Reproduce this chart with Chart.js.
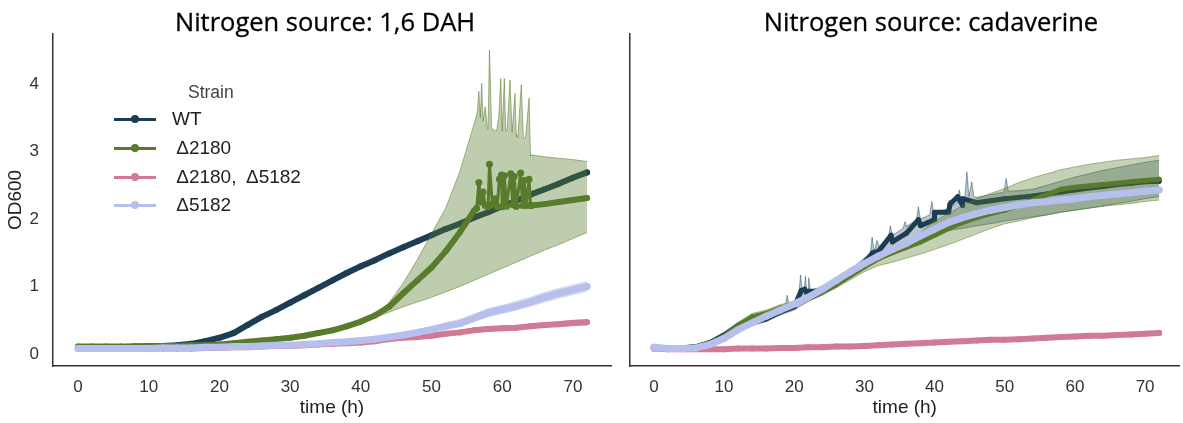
<!DOCTYPE html>
<html>
<head>
<meta charset="utf-8">
<script src="https://cdn.jsdelivr.net/npm/chart.js@4.4.1/dist/chart.umd.min.js"></script>
<style>
  body { margin: 0; background: #fff; width: 1183px; height: 423px; overflow: hidden; position: relative; font-family: "Liberation Sans", Arial, sans-serif; }
  .box { position: absolute; top: 0; height: 423px; }
  .ttl { position: absolute; top: 6px; font-family: "Open Sans", sans-serif; font-size: 25.5px; line-height: 30px; color: #000; white-space: nowrap; transform: translateX(-50%); -webkit-text-stroke: 0.3px #000; }
  #legend { position: absolute; left: 0; top: 0; }
  .lg-title { position: absolute; left: 188px; top: 81px; font-size: 17.5px; line-height: 22px; color: #444; }
  .lg-row { position: absolute; left: 114px; height: 24px; display: flex; align-items: center; }
  .lg-swatch { position: relative; width: 42px; height: 3px; margin-right: 16px; }
  .lg-swatch span { position: absolute; left: 17px; top: -2.5px; width: 8px; height: 8px; border-radius: 50%; }
  .lg-label { font-size: 19px; color: #222; white-space: pre; }
</style>
</head>
<body>
<div class="box" style="left:0;width:616px"><canvas id="dah"></canvas></div>
<div class="box" style="left:620px;width:563px"><canvas id="cad"></canvas></div>
<div class="ttl" style="left:325px">Nitrogen source: 1,6 DAH</div>
<div class="ttl" style="left:931px">Nitrogen source: cadaverine</div>
<div id="legend"></div>

<script>
// --- data ---
const STRAINS = ['WT', ' Δ2180', ' Δ2180,  Δ5182', ' Δ5182'];
const COLORS = ['#1b3e55', '#587c2c', '#d07b93', '#b7bfec'];
const X_TICKS = [0, 10, 20, 30, 40, 50, 60, 70];
const Y_TICKS = [0, 1, 2, 3, 4];

// time (h)
const T = [0, 2, 4, 6, 8, 10, 12, 14, 16, 18, 20, 22, 24, 26, 28, 30, 32, 34, 36,
           38, 40, 42, 44, 46, 48, 50, 52, 54, 56, 58, 60, 62, 64, 66, 68, 70, 72];

// nitrogen source: 1,6 DAH
const dahWT   = [0.10, 0.10, 0.10, 0.10, 0.11, 0.11, 0.12, 0.13, 0.15, 0.19, 0.24, 0.31, 0.43, 0.55, 0.65, 0.76, 0.87, 0.98, 1.09,
                 1.20, 1.30, 1.39, 1.49, 1.58, 1.67, 1.76, 1.85, 1.93, 2.02, 2.10, 2.19, 2.27, 2.36, 2.44, 2.52, 2.61, 2.69];
const dah2180 = [0.11, 0.11, 0.11, 0.11, 0.11, 0.12, 0.12, 0.12, 0.13, 0.13, 0.14, 0.16, 0.18, 0.20, 0.22, 0.24, 0.27, 0.31, 0.35,
                 0.41, 0.48, 0.57, 0.70, 0.90, 1.09, 1.28, 1.52, 1.80, 2.12, 2.18, 2.18, 2.19, 2.20, 2.22, 2.25, 2.28, 2.31];
const dah2180Lo = [0.09, 0.09, 0.09, 0.09, 0.09, 0.10, 0.10, 0.10, 0.11, 0.11, 0.12, 0.14, 0.16, 0.18, 0.20, 0.22, 0.25, 0.29, 0.33,
                   0.39, 0.46, 0.54, 0.62, 0.70, 0.77, 0.84, 0.92, 1.00, 1.09, 1.18, 1.27, 1.36, 1.45, 1.54, 1.62, 1.71, 1.80];
const dah2180Hi = [0.13, 0.13, 0.13, 0.13, 0.13, 0.14, 0.14, 0.14, 0.15, 0.15, 0.16, 0.18, 0.20, 0.22, 0.24, 0.26, 0.29, 0.33, 0.37,
                   0.43, 0.50, 0.59, 0.76, 1.05, 1.40, 1.78, 2.16, 2.70, 3.40, 3.33, 3.30, 3.22, 2.93, 2.92, 2.90, 2.88, 2.85];
const dahSpikeT   = [56.4, 56.7, 57.0, 57.3, 57.6, 58.2, 58.6, 59.0, 59.3, 59.6, 59.9, 60.1, 60.3, 60.6, 61.2, 61.5,
                     61.7, 62.0, 62.6, 62.9, 63.1, 63.4, 63.8, 64.1];
const dah2180Spike = [2.16, 2.54, 2.25, 2.40, 2.20, 2.81, 2.22, 2.30, 2.18, 2.59, 2.65, 2.20, 2.64, 2.19, 2.67, 2.21,
                      2.63, 2.19, 2.68, 2.20, 2.57, 2.20, 2.59, 2.20];
const dahHiSpikeT = [56.2, 56.5, 56.7, 56.9, 57.1, 57.3, 57.6, 57.9, 58.2, 58.5, 58.7, 59.2, 59.5, 59.8, 60.0, 60.3,
                     60.5, 60.7, 61.1, 61.4, 61.8, 62.0, 62.2, 62.7, 63.0, 63.3, 63.8, 64.0];
const dah2180HiSpike = [3.47, 3.60, 3.89, 3.50, 4.01, 3.45, 3.66, 3.35, 4.50, 3.35, 3.32, 3.30, 3.50, 4.08, 3.30, 4.08,
                        3.30, 3.32, 4.06, 3.28, 3.86, 3.25, 3.20, 3.99, 3.20, 3.20, 3.79, 2.95];
const dahBoth   = [0.08, 0.08, 0.08, 0.08, 0.08, 0.08, 0.08, 0.08, 0.08, 0.09, 0.09, 0.10, 0.10, 0.11, 0.12, 0.12, 0.13, 0.14, 0.15,
                   0.16, 0.17, 0.19, 0.22, 0.24, 0.25, 0.27, 0.30, 0.32, 0.35, 0.37, 0.38, 0.39, 0.41, 0.43, 0.44, 0.46, 0.47];
const dahBothLo = [0.07, 0.07, 0.07, 0.07, 0.07, 0.07, 0.07, 0.07, 0.07, 0.08, 0.08, 0.09, 0.09, 0.10, 0.11, 0.11, 0.12, 0.13, 0.14,
                   0.15, 0.16, 0.17, 0.20, 0.22, 0.23, 0.25, 0.28, 0.30, 0.32, 0.34, 0.35, 0.36, 0.38, 0.40, 0.41, 0.42, 0.43];
const dahBothHi = [0.09, 0.09, 0.09, 0.09, 0.09, 0.09, 0.09, 0.09, 0.09, 0.10, 0.10, 0.11, 0.11, 0.12, 0.13, 0.13, 0.14, 0.15, 0.16,
                   0.17, 0.19, 0.21, 0.24, 0.26, 0.27, 0.29, 0.32, 0.35, 0.38, 0.40, 0.41, 0.42, 0.44, 0.46, 0.48, 0.50, 0.51];
const dah5182   = [0.08, 0.08, 0.08, 0.08, 0.08, 0.08, 0.09, 0.09, 0.09, 0.10, 0.10, 0.11, 0.11, 0.12, 0.13, 0.13, 0.14, 0.15, 0.17,
                   0.18, 0.20, 0.22, 0.25, 0.28, 0.32, 0.36, 0.41, 0.45, 0.53, 0.61, 0.66, 0.71, 0.77, 0.84, 0.90, 0.95, 1.00];
const dah5182Lo = [0.06, 0.06, 0.06, 0.06, 0.06, 0.06, 0.07, 0.07, 0.07, 0.08, 0.08, 0.09, 0.09, 0.10, 0.11, 0.11, 0.12, 0.13, 0.15,
                   0.16, 0.18, 0.20, 0.22, 0.25, 0.29, 0.33, 0.37, 0.41, 0.48, 0.55, 0.60, 0.65, 0.71, 0.77, 0.83, 0.88, 0.93];
const dah5182Hi = [0.10, 0.10, 0.10, 0.10, 0.10, 0.10, 0.11, 0.11, 0.11, 0.12, 0.12, 0.13, 0.13, 0.14, 0.15, 0.16, 0.17, 0.18, 0.20,
                   0.21, 0.23, 0.25, 0.28, 0.32, 0.36, 0.40, 0.46, 0.51, 0.59, 0.67, 0.72, 0.78, 0.84, 0.91, 0.97, 1.02, 1.07];

// nitrogen source: cadaverine
const cadWT   = [0.10, 0.09, 0.09, 0.11, 0.17, 0.28, 0.42, 0.46, 0.52, 0.62, 0.70, 0.86, 0.93, 1.05, 1.20, 1.36, 1.52, 1.66, 1.79,
                 1.90, 1.99, 2.10, 2.20, 2.24, 2.27, 2.30, 2.32, 2.34, 2.37, 2.40, 2.43, 2.46, 2.48, 2.51, 2.53, 2.55, 2.56];
const cadWTLo = [0.08, 0.07, 0.07, 0.09, 0.14, 0.24, 0.37, 0.42, 0.48, 0.58, 0.65, 0.78, 0.87, 0.99, 1.14, 1.28, 1.42, 1.55, 1.66,
                 1.75, 1.80, 1.83, 1.86, 1.90, 1.93, 1.97, 2.00, 2.03, 2.06, 2.10, 2.13, 2.16, 2.19, 2.23, 2.26, 2.30, 2.33];
const cadWTHi = [0.12, 0.11, 0.11, 0.13, 0.20, 0.32, 0.47, 0.49, 0.55, 0.66, 0.76, 0.92, 1.00, 1.10, 1.25, 1.42, 1.62, 1.75, 1.88,
                 1.98, 2.06, 2.16, 2.28, 2.32, 2.36, 2.40, 2.42, 2.44, 2.50, 2.56, 2.62, 2.67, 2.72, 2.76, 2.80, 2.84, 2.87];
const cadSpikeT  = [21.0, 21.5, 22.0, 31.2, 33.8, 37.7, 40.0, 42.2, 43.3, 44.0];
const cadWTSpike = [0.94, 0.96, 0.93, 1.50, 1.76, 1.99, 2.10, 2.22, 2.33, 2.30];
const cadHiSpikeT = [18.7, 19.0, 19.3, 20.6, 20.9, 21.2, 21.4, 21.6, 21.8, 22.0, 22.1, 22.3, 30.8, 31.1, 31.4, 31.8, 32.2,
                     33.4, 33.7, 34.0, 35.5, 35.8, 36.1, 37.4, 37.7, 38.0, 39.3, 39.6, 39.9, 41.8, 42.1, 42.4,
                     43.2, 43.5, 43.8, 44.3, 44.6, 44.9, 45.3, 45.6, 49.9, 50.2, 50.5];
const cadWTHiSpike = [0.70, 0.87, 0.70, 0.80, 1.17, 0.88, 0.90, 1.15, 0.90, 0.92, 1.13, 0.94, 1.45, 1.73, 1.52, 1.68, 1.60,
                      1.70, 1.90, 1.76, 1.86, 1.96, 1.90, 1.98, 2.18, 2.00, 2.06, 2.26, 2.08, 2.16, 2.28, 2.18,
                      2.24, 2.43, 2.28, 2.30, 2.70, 2.33, 2.55, 2.33, 2.40, 2.60, 2.41];
const cad2180   = [0.10, 0.09, 0.09, 0.11, 0.16, 0.26, 0.42, 0.55, 0.60, 0.68, 0.74, 0.82, 0.92, 1.03, 1.16, 1.29, 1.41, 1.50, 1.58,
                   1.66, 1.76, 1.86, 1.95, 2.02, 2.08, 2.13, 2.20, 2.28, 2.36, 2.44, 2.47, 2.49, 2.51, 2.53, 2.55, 2.57, 2.59];
const cad2180Lo = [0.08, 0.07, 0.07, 0.09, 0.13, 0.22, 0.37, 0.50, 0.55, 0.63, 0.70, 0.78, 0.88, 0.98, 1.10, 1.22, 1.31, 1.36, 1.42,
                   1.48, 1.55, 1.62, 1.70, 1.78, 1.86, 1.93, 1.97, 2.02, 2.06, 2.10, 2.13, 2.16, 2.19, 2.21, 2.23, 2.26, 2.28];
const cad2180Hi = [0.12, 0.11, 0.11, 0.13, 0.19, 0.30, 0.47, 0.60, 0.65, 0.73, 0.78, 0.86, 0.96, 1.07, 1.20, 1.34, 1.48, 1.58, 1.68,
                   1.80, 1.97, 2.08, 2.20, 2.30, 2.38, 2.45, 2.54, 2.61, 2.67, 2.73, 2.77, 2.81, 2.84, 2.87, 2.89, 2.91, 2.94];
const cadBoth   = [0.08, 0.07, 0.07, 0.07, 0.07, 0.07, 0.08, 0.08, 0.08, 0.09, 0.09, 0.10, 0.10, 0.11, 0.11, 0.12, 0.13, 0.14, 0.15,
                   0.16, 0.17, 0.18, 0.19, 0.20, 0.21, 0.21, 0.22, 0.23, 0.24, 0.25, 0.26, 0.27, 0.27, 0.28, 0.29, 0.30, 0.31];
const cad5182   = [0.10, 0.08, 0.08, 0.09, 0.14, 0.23, 0.36, 0.46, 0.56, 0.65, 0.74, 0.84, 0.96, 1.09, 1.22, 1.34, 1.45, 1.55, 1.64,
                   1.75, 1.85, 1.95, 2.02, 2.08, 2.13, 2.17, 2.21, 2.24, 2.26, 2.28, 2.30, 2.33, 2.35, 2.37, 2.39, 2.41, 2.43];

// --- helpers ---
const pts = (xs, ys) => xs.map((x, i) => ({ x: x, y: ys[i] }));
const withSpikes = (xs, ys, sx, sy) => pts(xs, ys).concat(pts(sx, sy)).sort((a, b) => a.x - b.x);
const rgba = (hex, a) => {
    const n = parseInt(hex.slice(1), 16);
    return `rgba(${n >> 16}, ${(n >> 8) & 255}, ${n & 255}, ${a})`;
};

// thinner segments inside a spiky window, like single replicate jumps
function addLine(list, data, color, width, order, spikeT) {
    const inSpikes = x => spikeT && x >= spikeT[0] && x <= spikeT[spikeT.length - 1];
    list.push({
        data: data, borderColor: color, backgroundColor: color, borderWidth: width,
        pointRadius: ctx => (ctx.raw && inSpikes(ctx.raw.x)) ? 3.5 : width / 2,
        pointBorderWidth: 0, pointHoverRadius: 0,
        borderCapStyle: 'round', borderJoinStyle: 'round', fill: false, order: order,
        segment: { borderWidth: ctx => (inSpikes(ctx.p0.parsed.x) && inSpikes(ctx.p1.parsed.x)) ? 3 : width }
    });
}

function addBand(list, lo, hi, color, alpha, order) {
    list.push({ data: lo, borderColor: rgba(color, alpha + 0.15), borderWidth: 1, pointRadius: 0, fill: false, order: order });
    const loIdx = list.length - 1;
    list.push({ data: hi, borderColor: rgba(color, alpha + 0.15), borderWidth: 1, pointRadius: 0,
                backgroundColor: rgba(color, alpha), fill: { target: loIdx }, order: order });
}

const FONT = '"Liberation Sans", Arial, sans-serif';

function makeOptions(xMin, xMax, yWidth, showY) {
    return {
        responsive: true, maintainAspectRatio: false, animation: false,
        layout: { padding: { left: 0, right: showY ? 5 : 0, top: 34, bottom: 0 } },
        plugins: { legend: { display: false }, tooltip: { enabled: false } },
        scales: {
            x: {
                type: 'linear', min: xMin, max: xMax,
                afterBuildTicks: s => { s.ticks = X_TICKS.map(v => ({ value: v })); },
                afterFit: s => { s.height = 57; },
                grid: { display: false, drawTicks: false },
                border: { display: true, color: '#333', width: 1.5 },
                ticks: { color: '#333', font: { family: FONT, size: 17 }, padding: 11, maxRotation: 0 },
                title: { display: true, text: 'time (h)', color: '#222', font: { family: FONT, size: 19 }, padding: { top: 0, bottom: 4 } }
            },
            y: {
                type: 'linear', min: -0.178, max: 4.74,
                afterBuildTicks: s => { s.ticks = Y_TICKS.map(v => ({ value: v })); },
                afterFit: s => { s.width = yWidth; },
                grid: { display: false, drawTicks: false },
                border: { display: true, color: '#333', width: 1.5 },
                ticks: { display: showY, color: '#333', font: { family: FONT, size: 17 }, padding: 14 },
                title: { display: showY, text: 'OD600', color: '#222', font: { family: FONT, size: 19 }, padding: { top: 4, bottom: 0 } }
            }
        }
    };
}

// --- left panel: 1,6 DAH ---
const dahSets = [];
addBand(dahSets, pts(T, dahBothLo), pts(T, dahBothHi), COLORS[2], 0.35, 4);
addBand(dahSets, pts(T, dah5182Lo), pts(T, dah5182Hi), COLORS[3], 0.45, 2);
addBand(dahSets, pts(T, dah2180Lo), withSpikes(T, dah2180Hi, dahHiSpikeT, dah2180HiSpike), COLORS[1], 0.38, 6);
addLine(dahSets, pts(T, dahWT), COLORS[0], 6, 7);
addLine(dahSets, withSpikes(T, dah2180, dahSpikeT, dah2180Spike), COLORS[1], 6, 5, dahSpikeT);
addLine(dahSets, pts(T, dahBoth), COLORS[2], 6, 3);
addLine(dahSets, pts(T, dah5182), COLORS[3], 7, 1);

new Chart(document.getElementById('dah'), {
    type: 'line',
    data: { datasets: dahSets },
    options: makeOptions(-3.54, 75.39, 53, true)
});

// --- right panel: cadaverine ---
const cadSets = [];
addBand(cadSets, pts(T, cadWTLo), withSpikes(T, cadWTHi, cadHiSpikeT, cadWTHiSpike), COLORS[0], 0.3, 8);
addBand(cadSets, pts(T, cad2180Lo), pts(T, cad2180Hi), COLORS[1], 0.35, 6);
addLine(cadSets, withSpikes(T, cadWT, cadSpikeT, cadWTSpike), COLORS[0], 5, 7);
addLine(cadSets, pts(T, cad2180), COLORS[1], 5, 5);
addLine(cadSets, pts(T, cadBoth), COLORS[2], 6, 3);
addLine(cadSets, pts(T, cad5182), COLORS[3], 7, 1);

new Chart(document.getElementById('cad'), {
    type: 'line',
    data: { datasets: cadSets },
    options: makeOptions(-3.4, 74.9, 10, false)
});

// --- legend ---
const legend = document.getElementById('legend');
legend.innerHTML = '<div class="lg-title">Strain</div>';
const ROW_Y = [119, 148, 177, 205];
STRAINS.forEach((name, i) => {
    const row = document.createElement('div');
    row.className = 'lg-row';
    row.style.top = (ROW_Y[i] - 12) + 'px';
    row.innerHTML = `<div class="lg-swatch" style="background:${COLORS[i]}"><span style="background:${COLORS[i]}"></span></div>` +
                    `<div class="lg-label">${name}</div>`;
    legend.appendChild(row);
});
</script>
</body>
</html>
